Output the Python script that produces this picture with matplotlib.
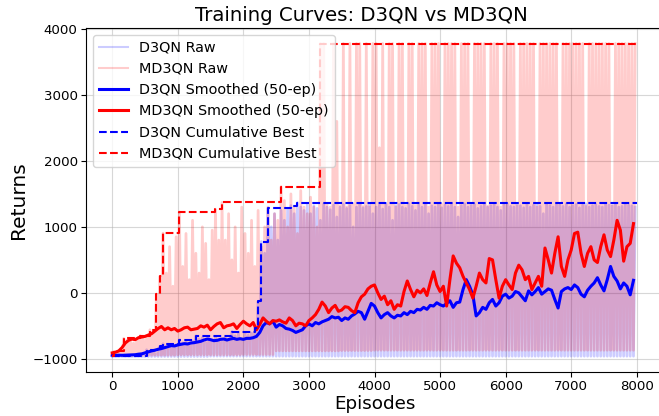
import numpy as np
import matplotlib
matplotlib.use("Agg")
import matplotlib.pyplot as plt

# ---- data ----
# raw returns: per 50-episode bin, the highest return seen (peak) and a floor (low)
BIN = 50
md3qn_raw_hi = [
    -890, -885, -880, -690, -720, -700, -760, -710, -650, -700,
    -680, -560, -600, -20, 250, 905, 300, 700, 100, 850,
    1225, 400, 900, 200, 1100, 600, 300, 1000, 750, 200,
    950, 1265, 800, 1370, 800, 1200, 500, 1000, 300, 1300,
    900, 600, 1100, 400, 1250, 700, 1000, 1300, 800, 1200,
    1100, 1610, 1400, 1000, 1500, 1300, 900, 1550, 1300, 1200,
    1450, 1300, 1000, 3780,
    # 3200 - 4500
    3780, 1350, 1300, 3780, 2600, 1320, 3780, 1300, 3780, 1340,
    3780, 3780, 1310, 3780, 1300, 3780, 3780, 2200, 3780, 1330,
    3780, 3780, 1300, 3780, 3780, 1320,
    # 4500 - 6000
    3780, 3780, 1320, 3780, 3780, 3780, 1300, 3780, 3780, 3780,
    1340, 3780, 3780, 3780, 3780, 1300, 3780, 3780, 3780, 1320,
    3780, 3780, 3780, 3780, 1310, 3780, 3780, 3780, 1300, 3780,
    # 6000 - 8000
    3780, 3780, 3780, 1320, 3780, 3780, 3780, 3780, 3780, 1300,
    3780, 3780, 3780, 3780, 3780, 3780, 1340, 3780, 3780, 3780,
    3780, 3780, 3780, 3780, 1310, 3780, 3780, 3780, 3780, 3780,
    3780, 3780, 1320, 3780, 3780, 3780, 3780, 3780, 3780, 3780,
]
d3qn_raw_hi = [
    -955, -958, -956, -957, -955, -958, -956, -957, -955, -956,
    -864, -900, -880, -920, -813, -772, -850, -800, -830, -790,
    -712, -760, -740, -800, -730, -652, -700, -680, -750, -690,
    -720, -660, -740, -700, -680, -710, -586, -650, -620, -700,
    -600, -640, -610, -535, -131, 778, 600, 1283, 1000, 1200,
    800, 1250, 1100, 1280, 1323, 1200, 1368,
    # 2850 - 8000
    1300, 1250, 1340, 1200, 1320, 1280, 1100, 1350, 1300, 1260,
    1330, 1150, 1300, 1340, 1280, 1320, 1000, 1300, 1350, 1290,
    1310, 1340, 1200, 1300, 1330, 1270, 1350, 1300, 1100, 1320,
    1340, 1300, 1280, 1350, 1310, 1250, 1330, 1300, 1340, 1200,
    1320, 1300, 1350, 1290, 1330, 1310, 1340, 1300, 1150, 1320,
    1350, 1300, 1330, 1340, 1280, 1310, 1350, 1300, 1320, 1340,
    1300, 1250, 1330, 1350, 1310, 1300, 1340, 1320, 1290, 1350,
    1300, 1330, 1340, 1310, 1200, 1350, 1320, 1300, 1340, 1330,
    1310, 1350, 1300, 1320, 1340, 1290, 1330, 1350, 1300, 1320,
    1340, 1310, 1300, 1350, 1330, 1320, 1340, 1300, 1310, 1350,
    1330, 1320, 1300,
]
# floor of the raw traces, per 500 episodes
md3qn_raw_lo = [-950, -945, -940, -940, -935, -880, -880, -875,
                -870, -870, -870, -870, -870, -870, -870, -870]
d3qn_raw_lo = [-965, -965, -965, -960, -960, -960, -960, -960,
               -960, -960, -960, -960, -960, -960, -960, -960]

# 50-episode moving averages, read every 50 episodes
smooth_eps = list(range(0, 8000, 50))
d3qn_smooth = [
    -945, -948, -945, -947, -945, -944, -940, -938, -930, -925,
    -910, -895, -880, -870, -855, -845, -830, -815, -800, -805,
    -790, -780, -770, -775, -760, -755, -745, -735, -715, -700,
    -710, -725, -720, -705, -700, -715, -700, -690, -705, -695,
    -705, -690, -690, -680, -660, -600, -500, -450, -470, -430,
    -520, -480, -500, -540, -550, -570, -600, -580, -560, -500,
    -470, -500, -450, -470, -440, -420, -400, -360, -380, -370,
    -420, -380, -400, -350, -320, -280, -300, -400, -280, -160,
    -200, -300, -380, -330, -300, -350, -380, -340, -350, -300,
    -330, -280, -300, -250, -260, -220, -250, -190, -200, -150,
    -180, -200, -160, -120, -220, -150, -140, 50, 200, 100,
    -30, -350, -300, -220, -250, -150, -100, -200, -150, -50,
    -20, -80, -50, 20, 0, -60, -120, 30, -30, 20,
    80, -20, 20, 60, 40, -100, -230, 20, 60, 80,
    50, 120, 80, -20, -60, 40, 100, 150, 230, 120,
    30, 200, 400, 250, 180, 60, 150, 100, -30, 190,
]
md3qn_smooth = [
    -910, -900, -880, -830, -760, -720, -700, -710, -680, -670,
    -660, -640, -620, -580, -540, -510, -560, -530, -560, -540,
    -580, -560, -530, -520, -560, -550, -540, -500, -520, -490,
    -560, -510, -470, -450, -530, -500, -490, -470, -540, -480,
    -430, -470, -500, -450, -560, -480, -380, -430, -470, -420,
    -430, -410, -440, -460, -380, -420, -500, -460, -470, -500,
    -420, -380, -330, -250, -140, -200, -300, -230, -190, -280,
    -260, -210, -220, -270, -300, -150, -60, -20, 60, 100,
    120, 0, -100, -50, -180, -120, -250, -180, -200, 20,
    180, 50, -60, 40, 0, 60, -40, 150, 320, 120,
    20, 100, -200, 200, 560, 450, 380, 250, 150, 50,
    -80, 100, 300, 200, 150, 520, 500, 200, -80, 100,
    200, 120, 50, 300, 420, 350, 200, 250, 50, 150,
    250, 100, 680, 500, 300, 600, 850, 400, 250, 500,
    650, 900, 920, 600, 400, 600, 700, 500, 460, 700,
    880, 650, 550, 800, 1100, 950, 480, 700, 750, 1050,
]


def raw_trace(hi, lo_blocks):
    # each bin: floor at bin start, peak half-way
    hi = np.asarray(hi, dtype=float)
    lo = np.repeat(lo_blocks, 500 // BIN)[:len(hi)]
    x = np.empty(2 * len(hi))
    y = np.empty(2 * len(hi))
    x[0::2] = np.arange(len(hi)) * BIN
    x[1::2] = np.arange(len(hi)) * BIN + BIN / 2
    y[0::2] = lo
    y[1::2] = hi
    return x, y


x_d, y_d = raw_trace(d3qn_raw_hi, d3qn_raw_lo)
x_m, y_m = raw_trace(md3qn_raw_hi, md3qn_raw_lo)
best_d = np.maximum.accumulate(y_d)
best_m = np.maximum.accumulate(y_m)
x_db = np.append(x_d, 7999)
x_mb = np.append(x_m, 7999)
best_d = np.append(best_d, best_d[-1])
best_m = np.append(best_m, best_m[-1])

fig = plt.figure(figsize=(6.59, 4.16), dpi=100)
ax = fig.add_axes([86 / 659, 44 / 416, 577 / 659, 344.3 / 416])

ax.plot(x_d, y_d, color="blue", alpha=0.2, lw=2.0, label="D3QN Raw")
ax.plot(x_m, y_m, color="red", alpha=0.2, lw=2.0, label="MD3QN Raw")
ax.plot(smooth_eps, d3qn_smooth, color="blue", lw=2.2, label="D3QN Smoothed (50-ep)")
ax.plot(smooth_eps, md3qn_smooth, color="red", lw=2.2, label="MD3QN Smoothed (50-ep)")
ax.plot(x_db, best_d, color="blue", ls="--", lw=1.5, drawstyle="steps-post",
        label="D3QN Cumulative Best")
ax.plot(x_mb, best_m, color="red", ls="--", lw=1.5, drawstyle="steps-post",
        label="MD3QN Cumulative Best")

ax.set_xlim(-400, 8400)
ax.set_ylim(-1200, 4020)
ax.set_xticks(range(0, 8001, 1000))
ax.set_yticks(range(-1000, 4001, 1000))
ax.tick_params(labelsize=9.6, pad=2.5)
ax.grid(True, alpha=0.5)
ax.set_xlabel("Episodes", fontsize=13.2, labelpad=1)
ax.set_ylabel("Returns", fontsize=14.5, labelpad=3)
ax.set_title("Training Curves: D3QN vs MD3QN", fontsize=14.2, x=0.478, pad=5)
leg = ax.legend(loc="upper left", fontsize=10.4)
for h in leg.get_lines()[:2]:
    h.set_linewidth(1.5)

fig.savefig("out.png", dpi=100)
